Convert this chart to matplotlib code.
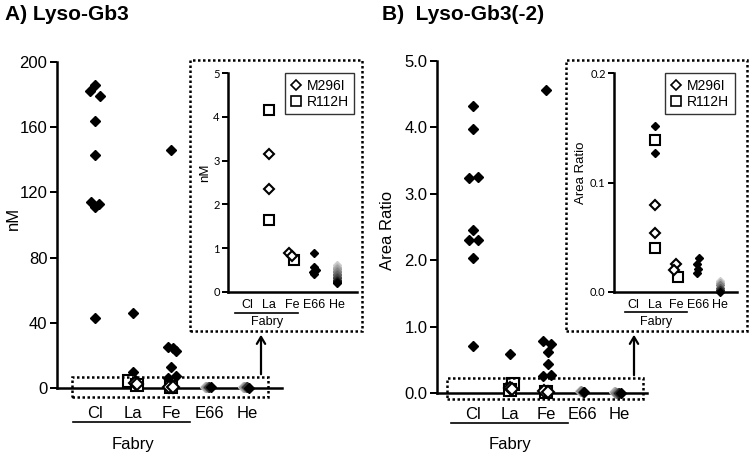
import numpy as np
import matplotlib.pyplot as plt
from matplotlib.patches import Rectangle, FancyArrowPatch
from matplotlib.lines import Line2D

# ---- data ----
groups = ["Cl", "La", "Fe", "E66", "He"]

# A) Lyso-Gb3 (nM)
gb3_cl = [186, 182, 179, 164, 143, 114, 113, 111, 43]
gb3_la = [46, 9.8, 6.0]
gb3_fe = [146, 25, 24.5, 23, 13, 7.5, 6.3]
gb3_e66 = [0.9, 0.57, 0.5, 0.45, 0.42]
gb3_he = [0.62, 0.58, 0.55, 0.52, 0.48, 0.45, 0.42, 0.38, 0.35, 0.32, 0.28, 0.25, 0.22, 0.2]
gb3_la_m296i = [3.15, 2.35]
gb3_la_r112h = [4.15, 1.65]
gb3_fe_m296i = [0.88, 0.82]
gb3_fe_r112h = [0.72]

# B) Lyso-Gb3(-2) (area ratio)
m2_cl = [4.32, 3.98, 3.26, 3.24, 2.45, 2.31, 2.30, 2.04, 0.71]
m2_la = [0.58, 0.152, 0.127]
m2_fe = [4.57, 0.78, 0.74, 0.61, 0.44, 0.27, 0.25]
m2_e66 = [0.031, 0.026, 0.021, 0.017]
m2_he = [0.010, 0.008, 0.006, 0.004, 0.002, 0.0]
m2_la_m296i = [0.079, 0.054]
m2_la_r112h = [0.139, 0.040]
m2_fe_m296i = [0.026, 0.020]
m2_fe_r112h = [0.014]

# jitter (x offsets, category units)
jit_cl = [0, -0.12, 0.12, 0, 0, -0.11, 0.1, 0, 0]
jit_la = [0, 0, 0]
jit_fe = [0, -0.08, 0.05, 0.14, 0, 0.14, -0.08]
jit_m2_cl = [0, 0, 0.12, -0.12, 0, -0.12, 0.12, 0, 0]
jit_m2_la = [0, 0, 0]
jit_m2_fe = [0, -0.08, 0.14, 0.05, 0.05, 0.14, -0.08]

W, H = 750, 457
plt.rcParams['font.family'] = ['Liberation Sans', 'DejaVu Sans']
fig = plt.figure(figsize=(7.5, 4.57), dpi=100)


def rect(l, t, r, b):
    return [l / W, 1 - b / H, (r - l) / W, (b - t) / H]


def P(x, y):
    return (x / W, 1 - y / H)


def style(ax, lw, ticklen, fs, xfs, xpad):
    for s in ["top", "right"]:
        ax.spines[s].set_visible(False)
    for s in ["left", "bottom"]:
        ax.spines[s].set_linewidth(lw)
    ax.tick_params(axis="y", direction="out", length=ticklen, width=lw * 0.8, labelsize=fs, pad=2)
    ax.tick_params(axis="x", length=0, labelsize=xfs, pad=xpad)
    ax.set_xticks(range(1, 6))
    ax.set_xticklabels(groups)
    ax.patch.set_alpha(0)


def dia(ax, x, vals, offs=None, ms=5.5, color="black"):
    offs = offs if offs is not None else [0] * len(vals)
    xs = [x + o for o in offs]
    ax.plot(xs, vals, "D", ms=ms, color=color, mec=color, clip_on=False, zorder=3)


def trail(ax, x, vals, ms, horizontal=True):
    n = len(vals)
    cols = plt.cm.Greys(np.linspace(0.3, 1.0, n))
    for i, v in enumerate(vals):
        dx = (i - n + 1) * 0.04 if horizontal else 0
        ax.plot(x + dx, v, "D", ms=ms, color=cols[i], mec=cols[i], clip_on=False, zorder=3)


def opens(ax, x, m296i, r112h, ms_d, ms_s, offs_d, offs_s):
    for v, o in zip(r112h, offs_s):
        ax.plot(x + o, v, "s", ms=ms_s, mfc="white", mec="black", mew=1.5, clip_on=False, zorder=4)
    for v, o in zip(m296i, offs_d):
        ax.plot(x + o, v, "D", ms=ms_d, mfc="white", mec="black", mew=1.5, clip_on=False, zorder=4)


def add_legend(ax):
    h1 = Line2D([], [], marker="D", ls="", mfc="white", mec="black", mew=1.2, ms=5.5)
    h2 = Line2D([], [], marker="s", ls="", mfc="white", mec="black", mew=1.2, ms=7)
    leg = ax.legend([h1, h2], ["M296I", "R112H"], loc="upper right", bbox_to_anchor=(0.98, 1.0),
                    fontsize=10, frameon=True, fancybox=False, handlelength=0.8, handletextpad=0.35,
                    borderpad=0.4, labelspacing=0.15, borderaxespad=0.0)
    leg.get_frame().set_edgecolor("black")
    leg.get_frame().set_linewidth(1.0)


# ---------- A) main ----------
ax1 = fig.add_axes(rect(57, 62, 282, 388))
style(ax1, 1.8, 5, 12, 12, 13)
ax1.set_ylim(0, 200)
ax1.set_yticks([0, 40, 80, 120, 160, 200])
ax1.set_xlim(0, 5.92)
dia(ax1, 1, gb3_cl, jit_cl)
dia(ax1, 2, gb3_la, jit_la)
dia(ax1, 3, gb3_fe, jit_fe)
opens(ax1, 2, gb3_la_m296i, gb3_la_r112h, 6, 8, [0.05, 0.1], [-0.1, 0.1])
opens(ax1, 3, gb3_fe_m296i, gb3_fe_r112h, 6, 8, [-0.05, 0.05], [0])
trail(ax1, 4.05, gb3_e66, 5.5)
trail(ax1, 5.05, gb3_he[::3], 5.5)

# ---------- A) inset ----------
ax2 = fig.add_axes(rect(228, 73, 357, 292))
style(ax2, 1.8, 4, 8, 9, 5)
ax2.set_ylim(0, 5)
ax2.set_yticks(range(6))
ax2.set_xlim(0.16, 5.89)
for t in ax2.get_yticklabels():
    t.set_family("Lato")
opens(ax2, 2, gb3_la_m296i, gb3_la_r112h, 5, 6.5, [0, 0], [0, 0])
opens(ax2, 3, gb3_fe_m296i, gb3_fe_r112h, 5, 6.5, [-0.12, 0], [0.08])
dia(ax2, 4, gb3_e66, [0, 0, 0.05, -0.05, 0], ms=4.5)
trail(ax2, 5, gb3_he, 4.5, horizontal=False)
add_legend(ax2)

# ---------- B) main ----------
ax3 = fig.add_axes(rect(437, 61, 647, 393))
style(ax3, 1.8, 5, 12, 12, 10)
ax3.set_ylim(0, 5)
ax3.set_yticks([0, 1, 2, 3, 4, 5])
ax3.set_yticklabels(["0.0", "1.0", "2.0", "3.0", "4.0", "5.0"])
ax3.set_xlim(0, 5.77)
dia(ax3, 1, m2_cl, jit_m2_cl)
dia(ax3, 2, m2_la, jit_m2_la)
dia(ax3, 3, m2_fe, jit_m2_fe)
opens(ax3, 2, m2_la_m296i, m2_la_r112h, 6, 8, [0, 0.05], [0.1, 0])
opens(ax3, 3, m2_fe_m296i, m2_fe_r112h, 6, 8, [-0.05, 0.05], [0])
trail(ax3, 4.05, m2_e66, 5.5)
trail(ax3, 5.05, m2_he, 5.5)

# ---------- B) inset ----------
ax4 = fig.add_axes(rect(614, 73, 737, 292))
style(ax4, 1.8, 4, 8, 9, 5)
ax4.set_ylim(0, 0.2)
ax4.set_yticks([0, 0.1, 0.2])
ax4.set_yticklabels(["0.0", "0.1", "0.2"])
ax4.set_xlim(0.13, 5.78)
for t in ax4.get_yticklabels():
    t.set_family("Lato")
dia(ax4, 2, m2_la[1:], ms=4)
opens(ax4, 2, m2_la_m296i, m2_la_r112h, 5, 6.5, [0, 0], [0, 0])
opens(ax4, 3, m2_fe_m296i, m2_fe_r112h, 5, 6.5, [0, -0.12], [0.08])
dia(ax4, 4, m2_e66, [0.05, -0.05, 0, -0.05], ms=4.5)
trail(ax4, 5, m2_he, 4.5, horizontal=False)
add_legend(ax4)

# ---------- annotations ----------
fig.text(*P(5, 15), "A) Lyso-Gb3", fontsize=15, fontweight="bold", va="center", ha="left")
fig.text(*P(382, 15), "B)  Lyso-Gb3(-2)", fontsize=15, fontweight="bold", va="center", ha="left")
fig.text(*P(13, 218), "nM", fontsize=12, rotation=90, va="center", ha="center")
fig.text(*P(388, 230), "Area Ratio", fontsize=12, rotation=90, va="center", ha="center")
fig.text(*P(205, 173), "nM", fontsize=9.5, rotation=90, va="center", ha="center")
fig.text(*P(581, 173), "Area Ratio", fontsize=9.5, rotation=90, va="center", ha="center")

for (x0, x1, y, tx, ty, fs) in [(73, 190, 422, 133, 445, 12), (451, 568, 423, 510, 445, 12),
                                (235, 298, 313, 267, 322, 9), (625, 687, 312, 656, 322, 9)]:
    fig.add_artist(Line2D([x0 / W, x1 / W], [1 - y / H, 1 - y / H], color="black", lw=1.2))
    fig.text(*P(tx, ty), "Fabry", fontsize=fs, ha="center", va="center")

for (l, t, r, b) in [(190, 60, 362, 331), (72, 377, 268, 397), (566, 60, 747, 331), (447, 378, 643, 399)]:
    fig.add_artist(Rectangle(P(l, b), (r - l) / W, (b - t) / H, transform=fig.transFigure,
                             fill=False, ls=(0, (1, 1)), lw=1.8, ec="black"))

for (x, y0, y1) in [(261, 377, 332), (634, 378, 332)]:
    fig.add_artist(FancyArrowPatch(P(x, y0), P(x, y1), transform=fig.transFigure,
                                   arrowstyle="->,head_length=5,head_width=3", lw=1.6, color="black"))

fig.savefig("out.png", dpi=100)
